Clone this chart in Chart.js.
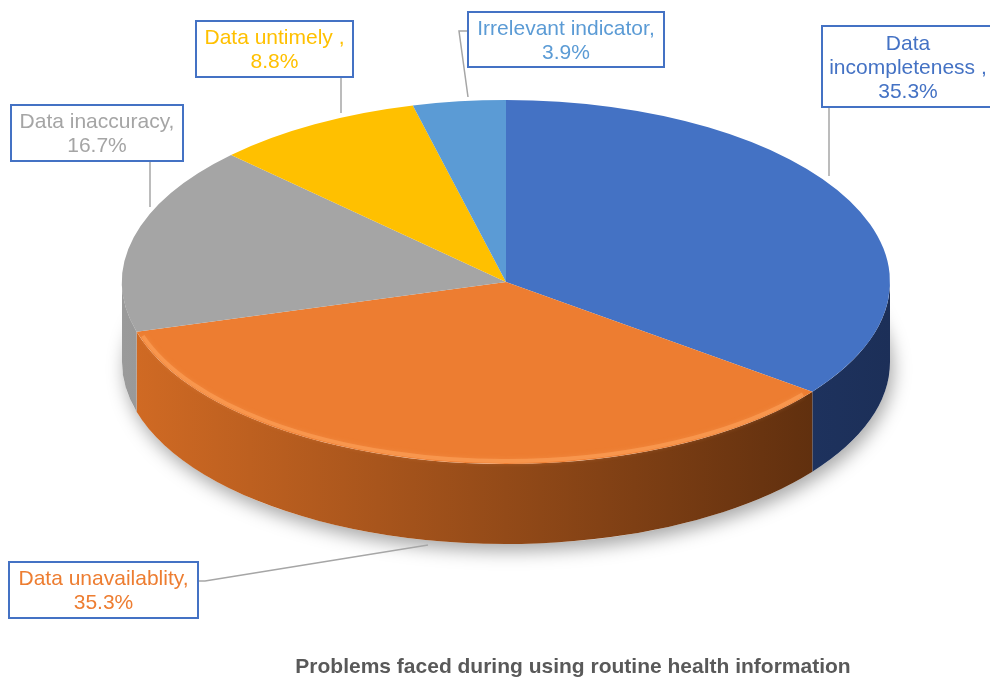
<!DOCTYPE html>
<html>
<head>
<meta charset="utf-8">
<script src="https://cdn.jsdelivr.net/npm/chart.js@4"></script>
<style>
  html, body { margin: 0; padding: 0; background: #fff; }
  #wrap { width: 990px; height: 684px; position: relative; }
</style>
</head>
<body>
<div id="wrap"><canvas id="pie"></canvas></div>
<script>
const categories = ['Data incompleteness ', 'Data unavailablity', 'Data inaccuracy', 'Data untimely ', 'Irrelevant indicator'];
const values = [35.3, 35.3, 16.7, 8.8, 3.9];
const topColors = ['#4472c4', '#ed7d31', '#a5a5a5', '#ffc000', '#5b9bd5'];
const sideColors = [['#2b4c8e', '#1c2f58'], ['#d26b24', '#54290c'], ['#9a9a9a', '#6a6a6a'], ['#c99800', '#8a6800'], ['#4a82b8', '#2d5a86']];
const chartTitle = 'Problems faced during using routine health information';

// where the flattened pie sits on the page
const CX = 506, CY = 282, RX = 384, RY = 182, DEPTH = 80;

// label boxes and leader lines, one per category
const boxes = [
  { x: 822, y: 26, w: 172, h: 81, line: [[829, 107], [829, 176]] },
  { x: 9, y: 562, w: 189, h: 56, line: [[198, 581], [205, 581], [428, 545]] },
  { x: 11, y: 105, w: 172, h: 56, line: [[150, 161], [150, 207]] },
  { x: 196, y: 21, w: 157, h: 56, line: [[341, 77], [341, 113]] },
  { x: 468, y: 12, w: 196, h: 55, line: [[468, 31], [459, 31], [468, 97]] }
];

const FONT = '"Liberation Sans", Arial, sans-serif';

function wrapText(ctx, text, maxW) {
  const words = text.split(' ').filter(w => w.length);
  const lines = [];
  let cur = '';
  words.forEach(w => {
    const t = cur ? cur + ' ' + w : w;
    if (ctx.measureText(t).width > maxW && cur) { lines.push(cur); cur = w; }
    else cur = t;
  });
  if (cur) lines.push(cur);
  return lines;
}

const pie3d = {
  id: 'pie3d',
  beforeDatasetsDraw(chart) {
    const ctx = chart.ctx;
    const arcs = chart.getDatasetMeta(0).data;
    const a0 = arcs[0];

    // soft shadow under the disc
    ctx.save();
    ctx.shadowColor = 'rgba(0,0,0,0.35)';
    ctx.shadowBlur = 18;
    ctx.shadowOffsetX = 3;
    ctx.shadowOffsetY = 7;
    ctx.fillStyle = '#fff';
    ctx.beginPath();
    ctx.ellipse(CX, CY + DEPTH, RX, RY, 0, 0, Math.PI * 2);
    ctx.fill();
    ctx.restore();

    // side walls of the front half
    arcs.forEach((arc, i) => {
      const s = Math.max(arc.startAngle, 0);
      const e = Math.min(arc.endAngle, Math.PI);
      if (e <= s) return;
      const g = ctx.createLinearGradient(CX - RX, 0, CX + RX, 0);
      g.addColorStop(0, sideColors[i][0]);
      g.addColorStop(1, sideColors[i][1]);
      ctx.save();
      ctx.fillStyle = g;
      ctx.beginPath();
      ctx.ellipse(CX, CY, RX, RY, 0, s, e);
      ctx.lineTo(CX + RX * Math.cos(e), CY + DEPTH + RY * Math.sin(e));
      ctx.ellipse(CX, CY + DEPTH, RX, RY, 0, e, s, true);
      ctx.closePath();
      ctx.fill();
      ctx.restore();
    });

    // flatten the library's own pie onto the top face
    ctx.save();
    const k = 1 / a0.outerRadius;
    ctx.translate(CX, CY);
    ctx.scale(RX * k, RY * k);
    ctx.translate(-a0.x, -a0.y);
  },
  afterDatasetsDraw(chart) {
    const ctx = chart.ctx;
    ctx.restore();
    const arc = chart.getDatasetMeta(0).data[1];

    // soft bevel highlight along the front rim of the orange slice
    const s = Math.max(arc.startAngle, 0) + 0.03;
    const e = Math.min(arc.endAngle, Math.PI) - 0.03;
    if (e > s) {
      ctx.save();
      ctx.beginPath();
      ctx.ellipse(CX, CY, RX - 3, RY - 3, 0, s, e);
      ctx.strokeStyle = 'rgba(255,165,95,0.55)';
      ctx.lineWidth = 4;
      ctx.shadowColor = 'rgba(255,165,95,0.6)';
      ctx.shadowBlur = 5;
      ctx.stroke();
      ctx.restore();
    }
  },
  afterDraw(chart) {
    const ctx = chart.ctx;
    ctx.save();
    ctx.font = '21px ' + FONT;
    ctx.textAlign = 'center';
    ctx.textBaseline = 'middle';
    categories.forEach((cat, i) => {
      const b = boxes[i];
      // leader
      ctx.strokeStyle = '#a6a6a6';
      ctx.lineWidth = 1.5;
      ctx.beginPath();
      b.line.forEach((p, j) => j ? ctx.lineTo(p[0], p[1]) : ctx.moveTo(p[0], p[1]));
      ctx.stroke();
      // box
      ctx.fillStyle = '#fff';
      ctx.fillRect(b.x, b.y, b.w, b.h);
      ctx.strokeStyle = '#4472c4';
      ctx.lineWidth = 2;
      ctx.strokeRect(b.x, b.y, b.w, b.h);
      // text
      const lines = wrapText(ctx, cat.trimStart() + ',', b.w - 10);
      lines.push(values[i].toFixed(1) + '%');
      const lh = 24;
      const top = b.y + b.h / 2 - (lines.length - 1) * lh / 2 + 1.5;
      ctx.fillStyle = topColors[i];
      lines.forEach((l, j) => ctx.fillText(l, b.x + b.w / 2, top + j * lh));
    });
    // title
    ctx.font = 'bold 21px ' + FONT;
    ctx.fillStyle = '#595959';
    ctx.fillText(chartTitle, 573, 667);
    ctx.restore();
  }
};

new Chart(document.getElementById('pie'), {
  type: 'pie',
  data: {
    labels: categories,
    datasets: [{
      data: values,
      backgroundColor: topColors,
      borderWidth: 0
    }]
  },
  options: {
    responsive: true,
    maintainAspectRatio: false,
    animation: false,
    events: [],
    plugins: {
      legend: { display: false },
      tooltip: { enabled: false }
    }
  },
  plugins: [pie3d]
});
</script>
</body>
</html>
